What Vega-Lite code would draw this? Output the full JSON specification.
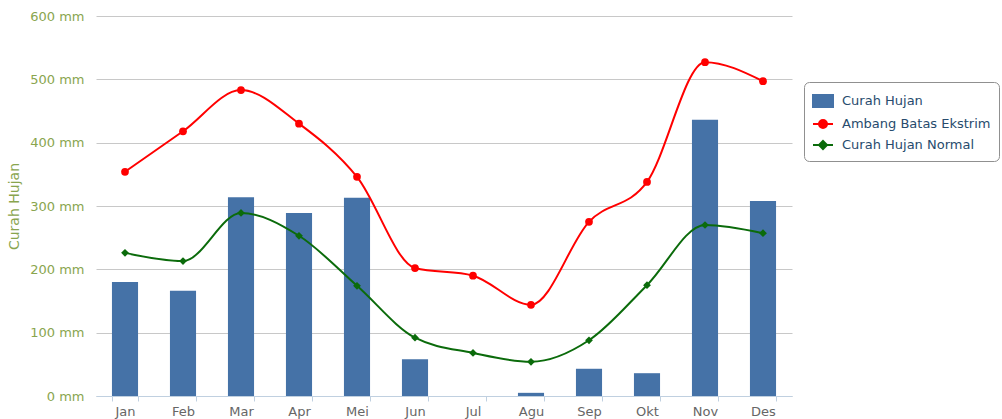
{
  "$schema": "https://vega.github.io/schema/vega-lite/v6.json",
  "width": 696,
  "height": 380,
  "autosize": {"type": "none"},
  "padding": {"left": 96, "top": 16, "right": 210, "bottom": 23},
  "background": "white",
  "config": {"view": {"stroke": null}, "font": "DejaVu Sans"},
  "data": {
    "values": [
      {"month": "Jan", "series": "Curah Hujan", "value": 180},
      {"month": "Feb", "series": "Curah Hujan", "value": 166},
      {"month": "Mar", "series": "Curah Hujan", "value": 314},
      {"month": "Apr", "series": "Curah Hujan", "value": 289},
      {"month": "Mei", "series": "Curah Hujan", "value": 313},
      {"month": "Jun", "series": "Curah Hujan", "value": 58},
      {"month": "Jul", "series": "Curah Hujan", "value": 0},
      {"month": "Agu", "series": "Curah Hujan", "value": 5},
      {"month": "Sep", "series": "Curah Hujan", "value": 43},
      {"month": "Okt", "series": "Curah Hujan", "value": 36},
      {"month": "Nov", "series": "Curah Hujan", "value": 436},
      {"month": "Des", "series": "Curah Hujan", "value": 308},
      {"month": "Jan", "series": "Ambang Batas Ekstrim", "value": 354},
      {"month": "Feb", "series": "Ambang Batas Ekstrim", "value": 418},
      {"month": "Mar", "series": "Ambang Batas Ekstrim", "value": 483},
      {"month": "Apr", "series": "Ambang Batas Ekstrim", "value": 430},
      {"month": "Mei", "series": "Ambang Batas Ekstrim", "value": 346},
      {"month": "Jun", "series": "Ambang Batas Ekstrim", "value": 202},
      {"month": "Jul", "series": "Ambang Batas Ekstrim", "value": 190},
      {"month": "Agu", "series": "Ambang Batas Ekstrim", "value": 144},
      {"month": "Sep", "series": "Ambang Batas Ekstrim", "value": 275},
      {"month": "Okt", "series": "Ambang Batas Ekstrim", "value": 338},
      {"month": "Nov", "series": "Ambang Batas Ekstrim", "value": 527},
      {"month": "Des", "series": "Ambang Batas Ekstrim", "value": 497},
      {"month": "Jan", "series": "Curah Hujan Normal", "value": 226},
      {"month": "Feb", "series": "Curah Hujan Normal", "value": 213},
      {"month": "Mar", "series": "Curah Hujan Normal", "value": 289},
      {"month": "Apr", "series": "Curah Hujan Normal", "value": 253},
      {"month": "Mei", "series": "Curah Hujan Normal", "value": 174},
      {"month": "Jun", "series": "Curah Hujan Normal", "value": 92},
      {"month": "Jul", "series": "Curah Hujan Normal", "value": 68},
      {"month": "Agu", "series": "Curah Hujan Normal", "value": 54},
      {"month": "Sep", "series": "Curah Hujan Normal", "value": 88},
      {"month": "Okt", "series": "Curah Hujan Normal", "value": 175},
      {"month": "Nov", "series": "Curah Hujan Normal", "value": 270},
      {"month": "Des", "series": "Curah Hujan Normal", "value": 257}
    ]
  },
  "encoding": {
    "x": {
      "field": "month",
      "type": "nominal",
      "sort": ["Jan", "Feb", "Mar", "Apr", "Mei", "Jun", "Jul", "Agu", "Sep", "Okt", "Nov", "Des"],
      "scale": {"paddingInner": 0.55, "paddingOuter": 0.275},
      "axis": {
        "title": null,
        "labelAngle": 0,
        "labelColor": "#666666",
        "labelFontSize": 13,
        "labelPadding": 4,
        "domainColor": "#C0D0E0",
        "tickColor": "#C0D0E0",
        "tickSize": 5,
        "tickBand": "extent",
        "grid": false
      }
    },
    "y": {
      "field": "value",
      "type": "quantitative",
      "scale": {"domain": [0, 600], "nice": false},
      "axis": {
        "values": [0, 100, 200, 300, 400, 500, 600],
        "labelExpr": "datum.value + ' mm'",
        "labelColor": "#89A54E",
        "labelFontSize": 13,
        "labelPadding": 12,
        "domain": false,
        "ticks": false,
        "gridColor": "#C8C8C8",
        "title": "Curah Hujan",
        "titleColor": "#89A54E",
        "titleFontSize": 14,
        "titleFontWeight": "normal",
        "titleAngle": -90,
        "titleBaseline": "middle",
        "titleAlign": "center",
        "titleX": -82,
        "titleY": 190
      }
    }
  },
  "layer": [
    {
      "transform": [{"filter": "datum.series === 'Curah Hujan'"}],
      "mark": {"type": "bar"},
      "encoding": {
        "color": {
          "field": "series",
          "type": "nominal",
          "scale": {
            "domain": ["Curah Hujan", "Ambang Batas Ekstrim", "Curah Hujan Normal"],
            "range": ["#4572A7", "#FF0000", "#0B6B0B"]
          },
          "legend": {
            "title": null,
            "orient": "none",
            "legendX": 708,
            "legendY": 66,
            "strokeColor": "#909090",
            "fillColor": "white",
            "cornerRadius": 5,
            "padding": 8,
            "labelFontSize": 13,
            "labelColor": "#274b6d",
            "labelOffset": 8,
            "symbolSize": 400,
            "rowPadding": 2,
            "encode": {
              "symbols": {
                "update": {
                  "shape": {"signal": "datum.value === 'Curah Hujan' ? 'M-1,-0.6H1V0.6H-1Z' : datum.value === 'Ambang Batas Ekstrim' ? 'M-1,0H1M0.4,0A0.4,0.4,0,1,1,-0.4,0A0.4,0.4,0,1,1,0.4,0' : 'M-1,0H1M0,-0.4L0.4,0L0,0.4L-0.4,0Z'"},
                  "fill": {"scale": "color", "field": "value"},
                  "stroke": {"scale": "color", "field": "value"},
                  "strokeWidth": {"value": 2},
                  "opacity": {"value": 1}
                }
              }
            }
          }
        }
      }
    },
    {
      "transform": [{"filter": "datum.series !== 'Curah Hujan'"}],
      "mark": {"type": "line", "interpolate": "monotone", "strokeWidth": 2},
      "encoding": {
        "color": {"field": "series", "type": "nominal"}
      }
    },
    {
      "transform": [{"filter": "datum.series !== 'Curah Hujan'"}],
      "mark": {"type": "point", "filled": true, "opacity": 1, "size": 60},
      "encoding": {
        "color": {"field": "series", "type": "nominal"},
        "shape": {
          "field": "series",
          "type": "nominal",
          "scale": {"domain": ["Ambang Batas Ekstrim", "Curah Hujan Normal"], "range": ["circle", "diamond"]},
          "legend": null
        }
      }
    }
  ]
}
